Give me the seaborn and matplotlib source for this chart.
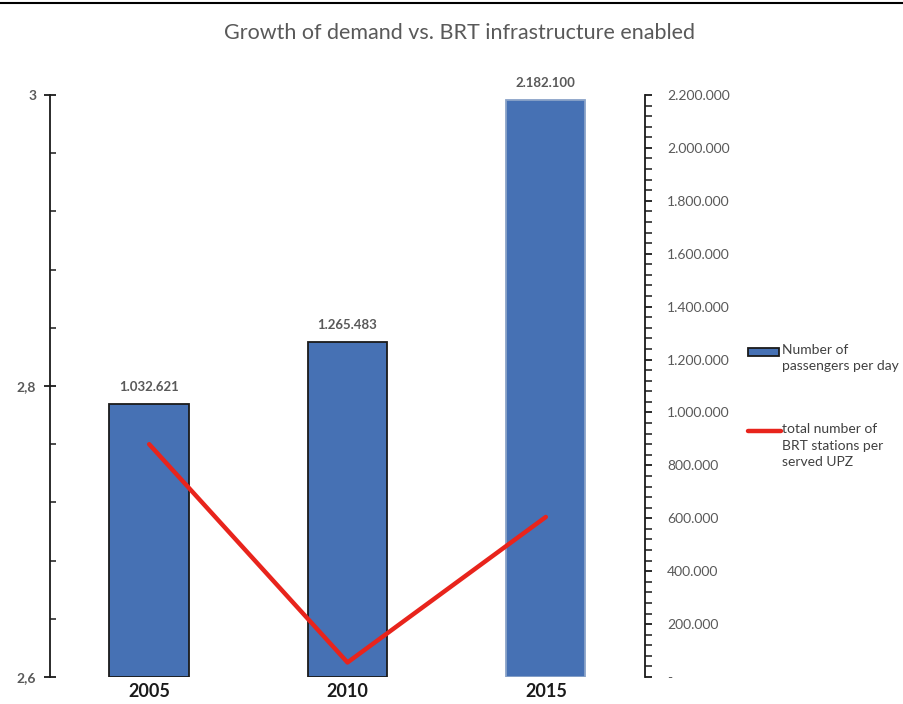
import numpy as np
import pandas as pd
import matplotlib
matplotlib.use("Agg")
import matplotlib.pyplot as plt
import matplotlib.ticker as mticker
import seaborn as sns

# data
years = ["2005", "2010", "2015"]
passengers = [1032621, 1265483, 2182100]
stations_per_upz = [2.76, 2.61, 2.71]

sns.set_style("white")
plt.rcParams['font.family'] = ['Lato', 'DejaVu Sans']

df = pd.DataFrame({"year": years, "passengers": passengers, "stations": stations_per_upz})
df["pos"] = np.arange(len(years))

bar_color = "#4671B4"
line_color = "#E8241C"

fig = plt.figure(figsize=(9.04, 7.04), dpi=100)
ax = fig.add_axes([50/904, 1-677/704, (645-50)/904, (677-95)/704])
ax2 = ax.twinx()

# bars on the secondary (right) axis
sns.barplot(data=df, x="year", y="passengers", ax=ax2, color=bar_color,
            width=0.4, edgecolor="#1a1a1a", linewidth=1.3, saturation=1)
ax2.patches[2].set_edgecolor("#8aa3c8")
labels = [f"{v:,}".replace(",", ".") for v in passengers]
ax2.bar_label(ax2.containers[0], labels=labels, padding=8, fontsize=9.5,
              fontweight="bold", color="#595959")

# line on the primary (left) axis
sns.lineplot(data=df, x="pos", y="stations", ax=ax, color=line_color,
             linewidth=3.2, legend=False)
ax.set_zorder(ax2.get_zorder() + 1)
ax.patch.set_visible(False)

ax.set_xlim(-0.5, 2.5)
ax2.set_xlim(-0.5, 2.5)
ax.set_ylim(2.6, 3.0)
ax2.set_ylim(0, 2200000)

ax.set_xlabel("")
ax.set_ylabel("")
ax2.set_xlabel("")
ax2.set_ylabel("")

for a in (ax, ax2):
    for s in a.spines.values():
        s.set_visible(False)
ax.spines["left"].set_visible(True)
ax.spines["left"].set_color("#1a1a1a")
ax.spines["left"].set_linewidth(1.3)
ax2.spines["right"].set_visible(True)
ax2.spines["right"].set_color("#1a1a1a")
ax2.spines["right"].set_linewidth(1.3)

# left ticks
ax.yaxis.set_major_locator(mticker.MultipleLocator(0.2))
ax.yaxis.set_minor_locator(mticker.MultipleLocator(0.04))
ax.yaxis.set_major_formatter(mticker.FuncFormatter(
    lambda v, p: "3" if abs(v - 3) < 1e-6 else f"{v:.1f}".replace(".", ",")))
ax.tick_params(axis="y", which="major", direction="inout", length=8, width=1.3,
               color="#1a1a1a", labelsize=10, labelcolor="#595959", pad=6, left=True)
ax.tick_params(axis="y", which="minor", direction="in", length=4, width=1.1,
               color="#1a1a1a", left=True)
for t in ax.get_yticklabels():
    t.set_fontweight("bold")

# right ticks
ax2.yaxis.set_major_locator(mticker.MultipleLocator(200000))
ax2.yaxis.set_minor_locator(mticker.MultipleLocator(40000))
ax2.yaxis.set_major_formatter(mticker.FuncFormatter(
    lambda v, p: "-" if v == 0 else f"{int(v):,}".replace(",", ".")))
ax2.tick_params(axis="y", which="major", direction="out", length=5, width=1.3,
                color="#1a1a1a", labelsize=10, labelcolor="#595959", pad=11, right=True)
ax2.tick_params(axis="y", which="minor", direction="out", length=5, width=1.1,
                color="#1a1a1a", right=True)

# x labels
ax.set_xticks(df["pos"])
ax.set_xticklabels(years)
ax.tick_params(axis="x", length=0, labelsize=13, labelcolor="#1a1a1a", pad=4)
for t in ax.get_xticklabels():
    t.set_fontweight("bold")
ax2.tick_params(axis="x", length=0, labelbottom=False)

fig.text(460/904, 1-33/704, "Growth of demand vs. BRT infrastructure enabled",
         ha="center", va="center", fontsize=15.5, color="#595959")
fig.add_artist(plt.Line2D([0, 1], [1-3/704, 1-3/704], color="black", linewidth=1.5))

# legend, drawn by hand so the keys line up with the first text line
W, H = 904, 704
fig.add_artist(plt.Rectangle((748/W, 1-356/H), 31/W, 8/H, transform=fig.transFigure,
                             facecolor=bar_color, edgecolor="#1a1a1a", linewidth=1.3))
fig.add_artist(plt.Line2D([748/W, 781/W], [1-431/H, 1-431/H], color=line_color,
                          linewidth=3.2, transform=fig.transFigure))
fig.text(782/W, 1-344/H, "Number of\npassengers per day", ha="left", va="top",
         fontsize=10, color="#404040", linespacing=1.45)
fig.text(782/W, 1-423/H, "total number of\nBRT stations per\nserved UPZ", ha="left",
         va="top", fontsize=10, color="#404040", linespacing=1.45)

fig.savefig("out.png", dpi=100)
